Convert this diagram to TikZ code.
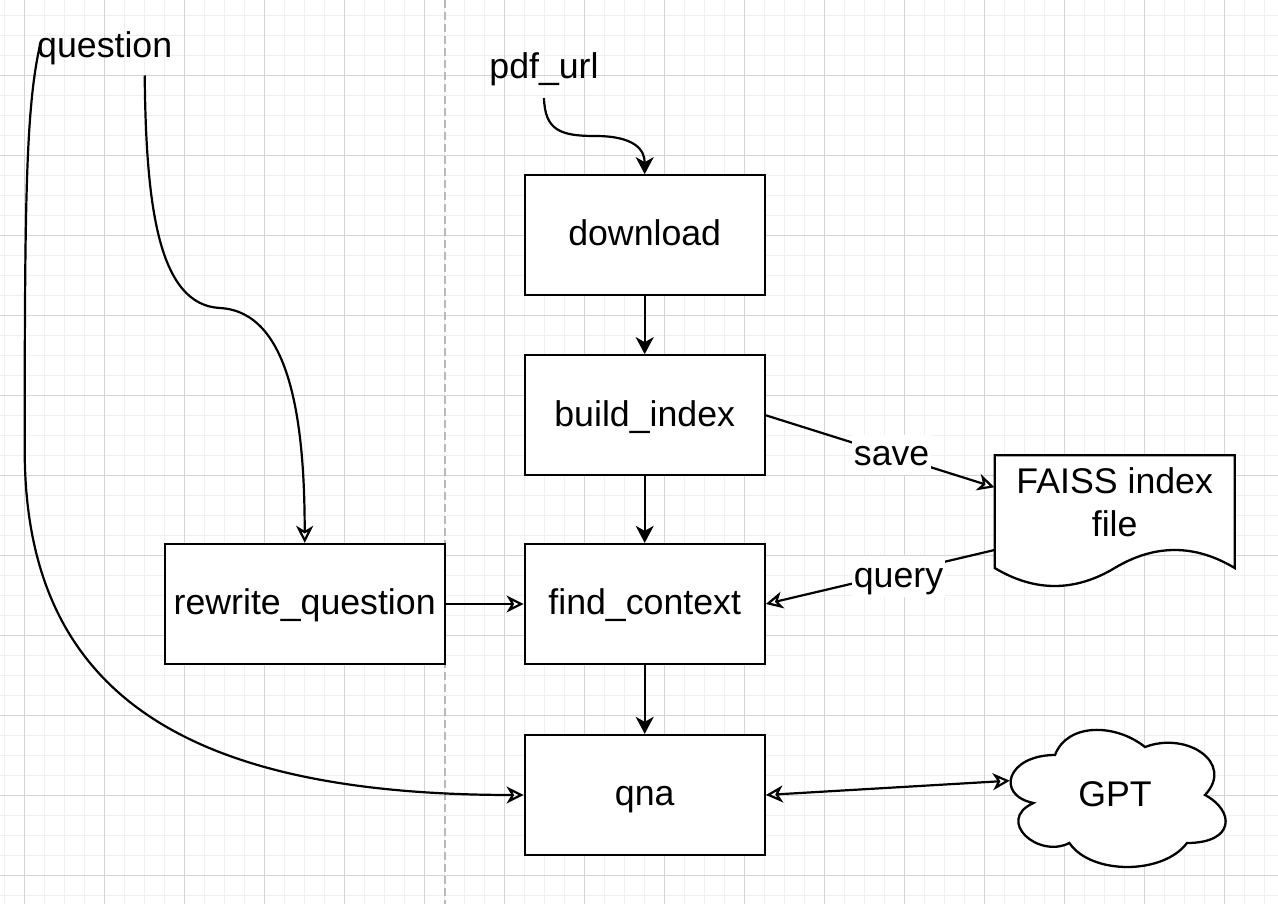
\documentclass[tikz,border=0pt]{standalone}
\usepackage{fontspec}
\setmainfont{Liberation Sans}
\usetikzlibrary{arrows.meta,calc}
\definecolor{gridminor}{RGB}{240,240,240}
\definecolor{gridmajor}{RGB}{212,212,212}
\definecolor{sepline}{RGB}{185,185,185}
\begin{document}
\begin{tikzpicture}[x=1pt,y=-1pt,
  font=\fontsize{35.7}{42.8}\selectfont,
  shapeline/.style={line width=2.3pt},
  stepbox/.style={draw, shapeline, fill=white, minimum width=240pt, minimum height=120pt, inner sep=0pt, text height=25pt, text depth=3.6pt},
  lbl/.style={inner sep=0pt, text height=25pt, text depth=3.6pt},
  edgelbl/.style={fill=white, inner xsep=2pt, inner ysep=6pt, text height=25pt, text depth=3.6pt},
  conn/.style={line width=2.2pt},
  farrow/.style={conn, -{Stealth[length=17pt,width=18pt,inset=5pt]}},
  oarrow/.style={conn, -{Stealth[open,length=17pt,width=17pt,inset=5pt]}},
  darrow/.style={conn, {Stealth[open,length=17pt,width=17pt,inset=5pt]}-{Stealth[open,length=17pt,width=17pt,inset=5pt]}},
]
\useasboundingbox (0,0) rectangle (1278,904);
\fill[white] (0,0) rectangle (1278,904);
% grid
\foreach \i in {0,...,63} \draw[gridminor, line width=1pt] ({4.7+20*\i},0) -- ({4.7+20*\i},904);
\foreach \j in {0,...,44} \draw[gridminor, line width=1pt] (0,{15.3+20*\j}) -- (1278,{15.3+20*\j});
\foreach \i in {0,...,15} \draw[gridmajor, line width=1pt] ({24.7+80*\i},0) -- ({24.7+80*\i},904);
\foreach \j in {0,...,10} \draw[gridmajor, line width=1pt] (0,{75.3+80*\j}) -- (1278,{75.3+80*\j});
% separator
\draw[sepline, line width=1.7pt, dash pattern=on 8pt off 4pt] (444.7,0) -- (444.7,904);

% labels
\node[lbl, minimum width=160pt, minimum height=56pt] (question) at (104.7,47.3) {question};
\node[lbl, minimum height=60pt] (pdf) at (544,68) {pdf\_url};

% boxes
\node[stepbox] (download) at (644.7,235.3) {download};
\node[stepbox] (build) at (644.7,415.3) {build\_index};
\node[stepbox] (find) at (644.7,604) {find\_context};
\node[stepbox] (qna) at (644.7,795) {qna};
\node[stepbox, minimum width=280pt] (rewrite) at (304.7,604) {rewrite\_question};

% FAISS document
\draw[shapeline, fill=white] (994.7,455.3) -- (1234.7,455.3) -- (1234.7,568)
  .. controls (1194.7,544) and (1154.7,544) .. (1114.7,568)
  .. controls (1074.7,592) and (1034.7,592) .. (994.7,568) -- cycle;
\node[inner sep=0pt, minimum width=240pt, minimum height=120pt, text depth=27pt] (faiss) at (1114.7,515.3)
  {\parbox[b]{240pt}{\centering FAISS index\\file}};

% GPT cloud
\draw[shapeline, fill=white] (1055,755)
  .. controls (1007,755) and (995,795) .. (1033.4,803)
  .. controls (995,820.6) and (1038.2,859) .. (1069.4,843)
  .. controls (1091,875) and (1163,875) .. (1187,843)
  .. controls (1235,843) and (1235,811) .. (1205,795)
  .. controls (1235,763) and (1187,731) .. (1145,747)
  .. controls (1115,723) and (1067,723) .. (1055,755) -- cycle;
\node[lbl, minimum width=240pt, minimum height=160pt] (gpt) at (1115,796) {GPT};

% connectors
\draw[farrow] (pdf.south) .. controls (545,130) and (560,136) .. (595,136)
  .. controls (635,136) and (644.7,150) .. (download.north);
\draw[farrow] (download.south) -- (build.north);
\draw[farrow] (build.south) -- (find.north);
\draw[farrow] (find.south) -- (qna.north);
\draw[oarrow] (build.east) -- node[edgelbl, pos=0.55] {save} ([yshift=28pt]faiss.west);
\draw[oarrow] ([yshift=-34.7pt]faiss.west) -- node[edgelbl, pos=0.42, yshift=-4pt] {query} (find.east);
\draw[oarrow] (rewrite.east) -- (find.west);
\draw[darrow] (qna.east) -- ([xshift=15pt,yshift=15.3pt]gpt.west);
\draw[oarrow] ([xshift=40pt]question.south) .. controls (146,205) and (158,305) .. (220,308)
  .. controls (290,312) and (304.7,420) .. (rewrite.north);
\draw[oarrow] ([xshift=15pt]question.west) .. controls (26,110) and (24.7,200) .. (24.7,450)
  .. controls (24.7,690) and (180,795) .. (qna.west);
\end{tikzpicture}
\end{document}
